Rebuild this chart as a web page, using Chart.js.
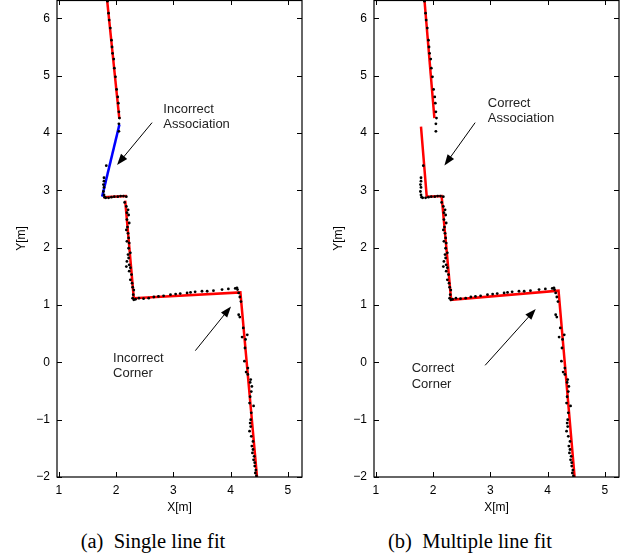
<!DOCTYPE html>
<html>
<head>
<meta charset="utf-8">
<script src="https://cdn.jsdelivr.net/npm/chart.js@4.4.1/dist/chart.umd.min.js"></script>
<style>
body{margin:0;background:#fff;width:638px;height:557px;overflow:hidden;position:relative;}
.panel{position:absolute;top:0;width:317px;height:520px;}
.cap{position:absolute;top:528px;font-family:"Liberation Serif","Times New Roman",serif;font-size:20.5px;line-height:26px;color:#000;white-space:pre;transform:translateX(-50%);}
</style>
</head>
<body>
<div class="panel" style="left:0"><canvas id="fitA" width="317" height="520"></canvas></div>
<div class="panel" style="left:317px"><canvas id="fitB" width="317" height="520"></canvas></div>
<div class="cap" style="left:153px">(a)  Single line fit</div>
<div class="cap" style="left:470px">(b)  Multiple line fit</div>
<script>
// laser scan points, same scan in both plots
var scanX = [1.85,1.87,1.88,1.90,1.92,1.93,1.94,1.96,1.97,1.99,2.01,2.03,2.04,2.05,2.06,2.05,2.05,
  1.83,1.79,1.79,1.78,1.79,1.78,1.79,1.80,
  1.82,1.87,1.92,1.97,2.03,2.08,2.13,2.18,
  2.15,2.18,2.21,2.19,2.22,2.19,2.23,2.20,2.18,2.21,2.22,2.19,2.23,2.22,2.25,2.21,2.22,2.19,2.23,2.18,2.25,2.23,2.27,2.25,2.28,2.29,2.31,2.30,2.29,2.31,
  2.34,2.40,2.48,2.57,2.66,2.74,2.83,2.95,3.04,3.12,3.24,3.30,3.38,3.50,3.59,3.70,3.85,3.96,4.08,4.11,
  4.12,4.14,4.16,4.18,4.14,4.16,4.22,4.20,4.26,4.29,4.25,4.24,4.30,4.27,4.30,4.35,4.34,4.37,4.36,4.34,4.33,4.40,4.36,4.35,4.34,4.35,4.33,4.36,4.39,4.37,4.39,4.38,4.41,4.40,4.42,4.42,4.44,4.43,4.45];
var scanY = [6.30,6.09,5.97,5.83,5.62,5.50,5.39,5.29,5.13,4.98,4.76,4.63,4.52,4.37,4.26,4.16,4.03,
  3.43,3.22,3.16,3.10,3.05,2.98,2.92,2.88,
  2.87,2.87,2.88,2.89,2.89,2.90,2.90,2.89,
  2.79,2.72,2.66,2.61,2.57,2.49,2.43,2.36,2.31,2.25,2.17,2.11,2.08,1.99,1.91,1.88,1.82,1.76,1.70,1.67,1.65,1.59,1.53,1.44,1.38,1.31,1.26,1.18,1.12,1.09,
  1.10,1.12,1.11,1.12,1.14,1.15,1.16,1.18,1.19,1.20,1.21,1.22,1.23,1.24,1.24,1.25,1.27,1.28,1.29,1.30,
  1.27,1.21,1.14,1.06,0.83,0.79,0.60,0.44,0.40,0.48,0.25,0.02,-0.10,-0.17,-0.21,-0.30,-0.35,-0.42,-0.51,-0.60,-0.71,-0.76,-0.88,-1.00,-1.06,-1.12,-1.20,-1.29,-1.38,-1.46,-1.52,-1.58,-1.64,-1.70,-1.75,-1.81,-1.88,-1.93,-1.98];

// fitted lines, (a) single line fit
var singleTop = [[1.84, 6.36], [2.058, 4.246]];
var singleBad = [[2.06, 4.15], [1.757, 2.89]];
var singleLedge = [[1.78, 2.88], [2.19, 2.90]];
var singleRest = [[2.16, 2.82], [2.31, 1.12], [4.17, 1.22], [4.469, -2.1]];

// fitted lines, (b) multiple line fit
var multiTop = [[1.847, 6.36], [2.024, 4.26]];
var multiRest = [[1.79, 4.11], [1.89, 2.89], [2.15, 2.90], [2.316, 1.09], [4.19, 1.25], [4.479, -2.1]];

var xTicks = [1, 2, 3, 4, 5];
var yTicks = [-2, -1, 0, 1, 2, 3, 4, 5, 6];

function pts(list) {
  return list.map(function(p){ return {x: p[0], y: p[1]}; });
}

var scan = scanX.map(function(x, i){ return {x: x, y: scanY[i]}; });

function fitLine(list, color) {
  return {
    data: pts(list),
    showLine: true,
    borderColor: color,
    borderWidth: 2.5,
    pointRadius: 0,
    tension: 0,
    order: 2
  };
}

// box with inward ticks, plus the text notes and arrows
var boxNotes = {
  id: 'boxNotes',
  afterDatasetsDraw: function(chart, args, opts) {
    var ctx = chart.ctx, a = chart.chartArea;
    var xs = chart.scales.x, ys = chart.scales.y;
    ctx.save();
    ctx.strokeStyle = '#000';
    ctx.lineWidth = 1.2;
    ctx.strokeRect(a.left, a.top + 0.5, a.right - a.left, a.bottom - a.top - 0.5);
    ctx.lineWidth = 1;
    ctx.beginPath();
    xTicks.forEach(function(v){
      var px = Math.round(xs.getPixelForValue(v)) + 0.5;
      ctx.moveTo(px, a.bottom); ctx.lineTo(px, a.bottom - 5);
      ctx.moveTo(px, a.top); ctx.lineTo(px, a.top + 5);
    });
    yTicks.forEach(function(v){
      var py = Math.round(ys.getPixelForValue(v)) + 0.5;
      ctx.moveTo(a.left, py); ctx.lineTo(a.left + 5, py);
      ctx.moveTo(a.right, py); ctx.lineTo(a.right - 5, py);
    });
    ctx.stroke();

    (opts.items || []).forEach(function(n){
      ctx.fillStyle = '#222';
      ctx.font = '13px "Liberation Sans", Arial, sans-serif';
      ctx.textAlign = 'left';
      ctx.textBaseline = 'middle';
      var tx = xs.getPixelForValue(n.x), ty = ys.getPixelForValue(n.y);
      n.lines.forEach(function(s, i){ ctx.fillText(s, tx, ty + i * 15.5); });

      var x0 = xs.getPixelForValue(n.tail[0]), y0 = ys.getPixelForValue(n.tail[1]);
      var x1 = xs.getPixelForValue(n.head[0]), y1 = ys.getPixelForValue(n.head[1]);
      var ang = Math.atan2(y1 - y0, x1 - x0);
      ctx.strokeStyle = '#000';
      ctx.lineWidth = 1;
      ctx.beginPath();
      ctx.moveTo(x0, y0);
      ctx.lineTo(x1 - 8 * Math.cos(ang), y1 - 8 * Math.sin(ang));
      ctx.stroke();
      ctx.fillStyle = '#000';
      ctx.beginPath();
      ctx.moveTo(x1, y1);
      ctx.lineTo(x1 - 11 * Math.cos(ang) + 4 * Math.sin(ang), y1 - 11 * Math.sin(ang) - 4 * Math.cos(ang));
      ctx.lineTo(x1 - 11 * Math.cos(ang) - 4 * Math.sin(ang), y1 - 11 * Math.sin(ang) + 4 * Math.cos(ang));
      ctx.closePath();
      ctx.fill();
    });
    ctx.restore();
  }
};

function makePanel(id, fits, notes) {
  var tickFont = {family: '"Liberation Sans", Arial, sans-serif', size: 12};
  var datasets = [{
    data: scan,
    pointRadius: 1.4,
    pointBackgroundColor: '#000',
    pointBorderWidth: 0,
    showLine: false,
    order: 1
  }].concat(fits);

  return new Chart(document.getElementById(id), {
    type: 'scatter',
    data: {datasets: datasets},
    plugins: [boxNotes],
    options: {
      responsive: false,
      animation: false,
      layout: {autoPadding: false, padding: {left: 0, right: 15, top: 0, bottom: 0}},
      plugins: {
        legend: {display: false},
        tooltip: {enabled: false},
        boxNotes: {items: notes}
      },
      scales: {
        x: {
          type: 'linear',
          min: 0.97,
          max: 5.245,
          afterBuildTicks: function(s){ s.ticks = xTicks.map(function(v){ return {value: v}; }); },
          afterFit: function(s){
            s.height = 43;
            s.paddingLeft = 0; s.paddingRight = 0;
          },
          grid: {display: false, drawTicks: false},
          border: {display: false},
          ticks: {color: '#000', font: tickFont, padding: 6},
          title: {display: true, text: 'X[m]', color: '#000', font: tickFont, padding: {top: 0, bottom: 5}}
        },
        y: {
          type: 'linear',
          min: -2,
          max: 6.32,
          afterBuildTicks: function(s){ s.ticks = yTicks.map(function(v){ return {value: v}; }); },
          afterFit: function(s){
            s.width = 57;
            s.paddingTop = 0; s.paddingBottom = 0;
          },
          grid: {display: false, drawTicks: false},
          border: {display: false},
          ticks: {
            color: '#000', font: tickFont, padding: 7,
            callback: function(v){ return String(v).replace('-', '\u2212'); }
          },
          title: {display: true, text: 'Y[m]', color: '#000', font: tickFont, padding: {top: 14, bottom: 0}}
        }
      }
    }
  });
}

makePanel('fitA', [
  fitLine(singleTop, '#f00'),
  fitLine(singleBad, '#00f'),
  fitLine(singleLedge, '#f00'),
  fitLine(singleRest, '#f00')
], [
  {lines: ['Incorrect', 'Association'], x: 2.826, y: 4.42, tail: [2.629, 4.181], head: [2.018, 3.444]},
  {lines: ['Incorrect', 'Corner'], x: 1.949, y: 0.073, tail: [3.384, 0.204], head: [4.006, 0.976]}
]);

makePanel('fitB', [
  fitLine(multiTop, '#f00'),
  fitLine(multiRest, '#f00')
], [
  {lines: ['Correct', 'Association'], x: 2.955, y: 4.524, tail: [2.735, 4.181], head: [2.199, 3.432]},
  {lines: ['Correct', 'Corner'], x: 1.628, y: -0.11, tail: [2.909, -0.052], head: [3.792, 0.93]}
]);
</script>
</body>
</html>
